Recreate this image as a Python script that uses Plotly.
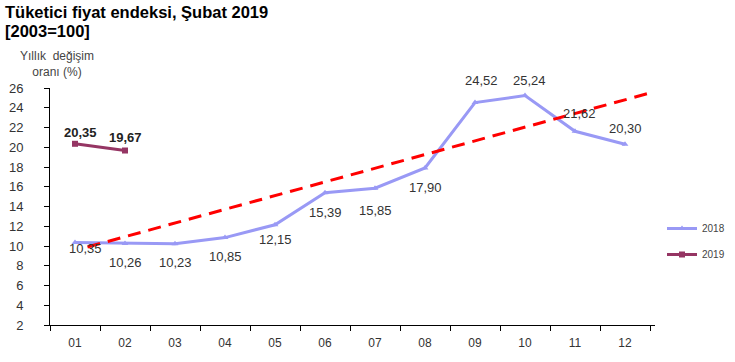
import plotly.graph_objects as go

months = ["01", "02", "03", "04", "05", "06", "07", "08", "09", "10", "11", "12"]
values_2018 = [10.35, 10.26, 10.23, 10.85, 12.15, 15.39, 15.85, 17.90, 24.52, 25.24, 21.62, 20.30]
values_2019 = [20.35, 19.67]
trend_x = [1.25, 12.5]
trend_y = [9.9, 25.5]
y_ticks = list(range(2, 27, 2))

# label offsets (pixels) relative to each point
shift_x_2018 = [10, 0, 0, 0, 0, 0, 0, 0, 6, 4, 4, 0]
shift_y_2018 = [-6, -19, -19, -19, -15, -20, -22, -20, 22, 15, 18, 16]
shift_x_2019 = [5, 0]
shift_y_2019 = [11, 13]

FONT = "Arial, Liberation Sans, sans-serif"
xs = list(range(1, 13))

W, H = 735, 362
ML, MR, MT, MB = 50, 80, 88, 37
PW = W - ML - MR
PH = H - MT - MB


def fmt(v):
    return f"{v:.2f}".replace(".", ",")


def py(page_y):
    return (H - MB - page_y) / PH


def px(page_x):
    return (page_x - ML) / PW


fig = go.Figure()

fig.add_trace(go.Scatter(
    x=xs, y=values_2018, name="2018", mode="lines+markers", legendgroup="a",
    line=dict(color="#9999F5", width=3),
    marker=dict(symbol="triangle-up", size=6, color="#9999F5"),
))

fig.add_trace(go.Scatter(
    x=xs[:len(values_2019)], y=values_2019, name="2019", mode="lines+markers", legendgroup="b",
    line=dict(color="#953563", width=3),
    marker=dict(symbol="square", size=6, color="#953563"),
))

fig.add_trace(go.Scatter(
    x=trend_x, y=trend_y, mode="lines", showlegend=False, hoverinfo="skip",
    line=dict(color="#FF0000", width=3, dash="13px,8px"),
))

annotations = []
for i, v in enumerate(values_2018):
    annotations.append(dict(
        x=xs[i], y=v, xref="x", yref="y", text=fmt(v), showarrow=False,
        xshift=shift_x_2018[i], yshift=shift_y_2018[i],
        font=dict(family=FONT, size=13, color="#333333"),
    ))
for i, v in enumerate(values_2019):
    annotations.append(dict(
        x=xs[i], y=v, xref="x", yref="y", text="<b>" + fmt(v) + "</b>", showarrow=False,
        xshift=shift_x_2019[i], yshift=shift_y_2019[i],
        font=dict(family=FONT, size=13, color="#222222"),
    ))

annotations += [
    dict(text="<b>Tüketici fiyat endeksi, Şubat 2019</b>", xref="paper", yref="paper",
         x=px(3), y=py(12), xanchor="left", yanchor="middle", showarrow=False,
         font=dict(family=FONT, size=16.5, color="black")),
    dict(text="<b>[2003=100]</b>", xref="paper", yref="paper",
         x=px(3), y=py(31), xanchor="left", yanchor="middle", showarrow=False,
         font=dict(family=FONT, size=16.5, color="black")),
    dict(text="Yıllık  değişim<br>oranı (%)", xref="paper", yref="paper",
         x=px(57), y=py(64), xanchor="center", yanchor="middle", showarrow=False,
         font=dict(family=FONT, size=12, color="#444444"), align="center"),
]

fig.update_layout(
    width=W, height=H,
    margin=dict(l=ML, r=MR, t=MT, b=MB, autoexpand=False),
    paper_bgcolor="white", plot_bgcolor="white",
    font=dict(family=FONT, size=11, color="#333333"),
    showlegend=True,
    legend=dict(x=px(662), y=py(214), xanchor="left", yanchor="top",
                font=dict(family=FONT, size=10, color="#444444"),
                bgcolor="rgba(0,0,0,0)", tracegroupgap=7, itemwidth=30),
    xaxis=dict(
        range=[0.5, 12.6], tickvals=xs, ticktext=months, ticks="",
        showgrid=False, zeroline=False, showline=True, linecolor="black", linewidth=1,
        tickfont=dict(family=FONT, size=12, color="#333333"),
        ticklabelstandoff=7,
        minor=dict(ticks="outside", tick0=0.5, dtick=1, ticklen=5, tickcolor="black", showgrid=False),
    ),
    yaxis=dict(
        range=[2, 26], tickvals=y_ticks, ticks="outside", ticklen=5, tickcolor="black",
        showgrid=False, zeroline=False, showline=True, linecolor="black", linewidth=1,
        tickfont=dict(family=FONT, size=13, color="#333333"),
        ticklabelstandoff=18,
    ),
    annotations=annotations,
)

fig.write_html(
    "out.html",
    config={"displayModeBar": False},
    post_script="document.body.style.margin='0';document.body.style.overflow='hidden';",
)
